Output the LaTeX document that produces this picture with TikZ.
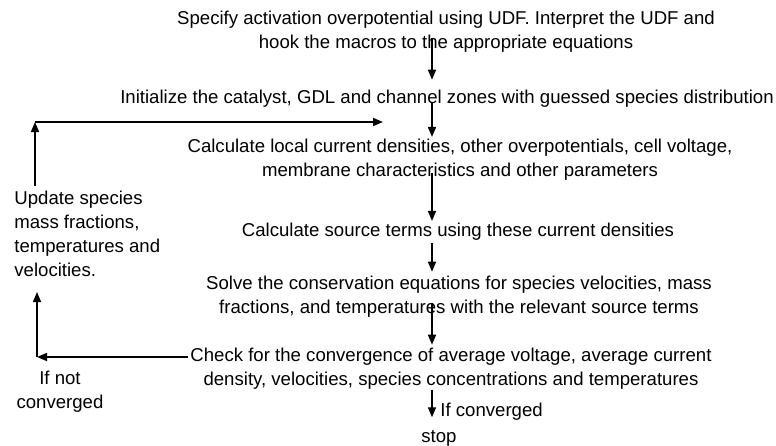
\documentclass[tikz,border=0pt]{standalone}
\usepackage{fontspec}
\setmainfont{Liberation Sans}
\usetikzlibrary{arrows.meta}

\begin{document}
\begin{tikzpicture}[x=0.5pt, y=-0.5pt,
    every node/.style={font=\fontsize{9.3}{12}\selectfont, inner sep=1pt},
    steptext/.style={align=center},
    flow/.style={-{Triangle[length=5pt, width=4pt]}, line width=0.8pt}]
    \useasboundingbox (0,0) rectangle (776,445);
    % main column of steps
    \node[steptext] (spec) at (446,32) {Specify activation overpotential using UDF. Interpret the UDF and\\hook the macros to the appropriate equations};
    \node[steptext] (init) at (447,99) {Initialize the catalyst, GDL and channel zones with guessed species distribution};
    \node[steptext] (calc) at (460,160) {Calculate local current densities, other overpotentials, cell voltage,\\membrane characteristics and other parameters};
    \node[steptext] (src) at (458,232) {Calculate source terms using these current densities};
    \node[steptext] (solve) at (459,297) {Solve the conservation equations for species velocities, mass\\fractions, and temperatures with the relevant source terms};
    \node[steptext] (check) at (451,369) {Check for the convergence of average voltage, average current\\density, velocities, species concentrations and temperatures};
    \node (stop) at (439,438) {stop};
    % loop back labels
    \node[align=left, anchor=west] (update) at (12,234) {Update species\\mass fractions,\\temperatures and\\velocities.};
    \node[align=center] (notconv) at (60,392) {If not\\converged};
    \node[anchor=west] (ifconv) at (438,412) {If converged};

    \coordinate (axis) at (432,0);
    \coordinate (uptop) at (35,122);
    \coordinate (upend) at (383,122);
    \coordinate (lowcorner) at (37,357);
    \coordinate (lowtop) at (37,292);

    \draw[flow] ([yshift=8.4pt]spec.south -| axis) -- ([yshift=4.1pt]init.north -| axis);
    \draw[flow] ([yshift=3.4pt]init.south -| axis) -- (calc.north -| axis);
    \draw[flow] ([yshift=4.9pt]calc.south -| axis) -- (src.north -| axis);
    \draw[flow] (src.south -| axis) -- ([yshift=1.1pt]solve.north -| axis);
    \draw[flow] ([yshift=8.4pt]solve.south -| axis) -- ([yshift=0.6pt]check.north -| axis);
    \draw[flow] ([yshift=1pt]check.south -| axis) -- ([yshift=5.2pt]stop.north -| axis);

    \draw[flow] ([yshift=1.6pt]update.north -| uptop) -- (uptop);
    \draw[flow] (uptop) -- (upend);
    \draw[flow] (check.west |- lowcorner) -- (lowcorner);
    \draw[flow] (lowcorner) -- (lowtop);
\end{tikzpicture}
\end{document}
